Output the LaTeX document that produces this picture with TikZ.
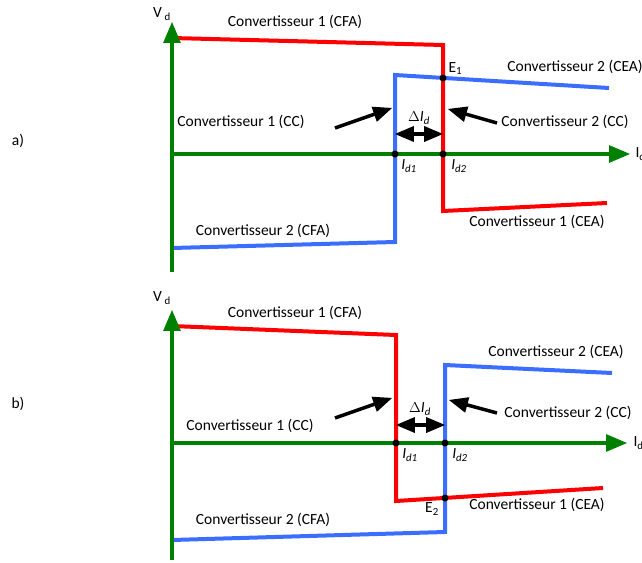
\documentclass[tikz,border=0pt]{standalone}
\usepackage{fontspec}
\setmainfont{Carlito}
\usepackage{tikz}
\usetikzlibrary{arrows}
\definecolor{rouge}{RGB}{255,0,0}
\definecolor{bleu}{RGB}{59,110,255}
\definecolor{vert}{RGB}{0,128,0}

\begin{document}
\begin{tikzpicture}[line join=miter,>=triangle 45,x=1pt,y=-1pt,
    axe/.style={->,color=vert,line width=4pt},
    conv1/.style={color=rouge,line width=4pt},
    conv2/.style={color=bleu,line width=4pt},
    fleche/.style={->,black,line width=3.5pt},
    txt/.style={font=\fontsize{15.5}{18}\selectfont},
    pt/.style={circle,fill=black,inner sep=0pt,minimum size=7pt}]
        \useasboundingbox (0,0) rectangle (642,562);
        % a)
        \node[txt] (a) at (18,141) {a)};
        \draw [conv1] (172,38) -- (443,45) -- (443,211) -- (607,203);
        \draw [conv2] (172,248) -- (395,242) -- (395,75) -- (609,88);
        \draw [axe] (172,272) -- (172,22);
        \draw [axe] (172,154) -- (630,154);
        \node[txt] (Vda) at (162,14) {V\,\textsubscript{d}};
        \node[txt,anchor=west] (Ida) at (632,154) {I\textsubscript{d}};
        \node[pt] (E1) at (443,78) {};
        \node[pt] (Ia1) at (395,154) {};
        \node[pt] (Ia2) at (443,154) {};
        \node[txt,anchor=south west] (E1l) at (445,78) {E\textsubscript{1}};
        \node[txt] (Ia1l) at (409,166) {\textit{I}\textsubscript{\textit{d1}}};
        \node[txt] (Ia2l) at (459,166) {\textit{I}\textsubscript{\textit{d2}}};
        \draw [fleche,<->] (Ia1.center |- 0,134) -- (Ia2.center |- 0,134);
        \node[txt] (dIa) at (419,118) {\textit{$\Delta$I}\textsubscript{\textit{d}}};
        \node[txt] (c1fa) at (295,22) {Convertisseur 1 (CFA)};
        \node[txt] (c2ea) at (575,67) {Convertisseur 2 (CEA)};
        \node[txt] (c1ca) at (241,122) {Convertisseur 1 (CC)};
        \node[txt] (c2ca) at (565,122) {Convertisseur 2 (CC)};
        \node[txt] (c2fa) at (263,231) {Convertisseur 2 (CFA)};
        \node[txt] (c1ea) at (537,222) {Convertisseur 1 (CEA)};
        \coordinate (g1) at (335,128);
        \coordinate (g2) at (392,108);
        \coordinate (d1) at (497,123);
        \coordinate (d2) at (448,109);
        \draw [fleche] (g1) -- (g2);
        \draw [fleche] (d1) -- (d2);
        % b)
        \node[txt] (b) at (18,404) {b)};
        \draw [conv1] (172,326) -- (396,335) -- (396,501) -- (603,488);
        \draw [conv2] (172,540) -- (445,532) -- (445,365) -- (612,373);
        \draw [axe] (172,560) -- (172,310);
        \draw [axe] (172,443) -- (627,443);
        \node[txt] (Vdb) at (162,298) {V\,\textsubscript{d}};
        \node[txt,anchor=west] (Idb) at (630,443) {I\textsubscript{d}};
        \node[pt] (E2) at (445,498) {};
        \node[pt] (Ib1) at (396,443) {};
        \node[pt] (Ib2) at (445,443) {};
        \node[txt] (E2l) at (432,509) {E\textsubscript{2}};
        \node[txt] (Ib1l) at (410,455) {\textit{I}\textsubscript{\textit{d1}}};
        \node[txt] (Ib2l) at (460,455) {\textit{I}\textsubscript{\textit{d2}}};
        \draw [fleche,<->] (Ib1.center |- 0,425) -- (Ib2.center |- 0,425);
        \node[txt] (dIb) at (420,409) {\textit{$\Delta$I}\textsubscript{\textit{d}}};
        \node[txt] (c1fb) at (295,313) {Convertisseur 1 (CFA)};
        \node[txt] (c2eb) at (556,352) {Convertisseur 2 (CEA)};
        \node[txt] (c1cb) at (250,426) {Convertisseur 1 (CC)};
        \node[txt] (c2cb) at (568,413) {Convertisseur 2 (CC)};
        \node[txt] (c2fb) at (263,520) {Convertisseur 2 (CFA)};
        \node[txt] (c1eb) at (537,505) {Convertisseur 1 (CEA)};
        \coordinate (h1) at (335,418);
        \coordinate (h2) at (392,398);
        \coordinate (k1) at (497,413);
        \coordinate (k2) at (449,400);
        \draw [fleche] (h1) -- (h2);
        \draw [fleche] (k1) -- (k2);
    \end{tikzpicture}
\end{document}
